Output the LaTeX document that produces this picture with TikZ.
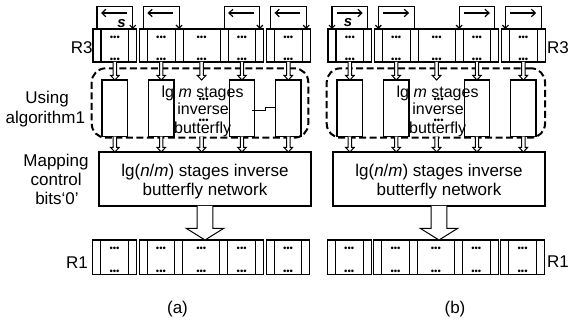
\documentclass[tikz,border=0pt]{standalone}
\usepackage{fontspec}
\setmainfont{Liberation Sans}
\usetikzlibrary{arrows.meta,calc}
\newcommand\mkreg[4]{%
  \foreach \nm/\off/\w in {1L/0/8,1M/8/27.75,1R/35.75/8,2L/46.35/8,2M/54.35/27.75,2R/82.1/8,3M/90.1/37,4L/127.1/8,4M/135.1/27.75,4R/162.85/8,5L/173.45/8,5M/181.45/27.75,5R/209.2/8}{
    \node[cell, minimum width=\w pt, minimum height=#4pt, anchor=north west] (#1-\nm) at ({#2+\off},#3) {};
  }
  \foreach \nm in {1M,2M,3M,4M,5M}{
    \node[dotsn] (#1-\nm-t) at ([yshift=-9.5pt]#1-\nm.north) {•••};
    \node[dotsn] (#1-\nm-b) at ([yshift=1.6pt]#1-\nm.south) {•••};
  }
}
\newcommand\hollow[5]{%
  \draw[hollowarr] let \p1=(#1), \p2=(#2) in
   ({\x1-#3pt},\y1) -- ({\x1-#3pt},{\y2+#5pt}) -- ({\x1-#4pt},{\y2+#5pt}) -- (\x1,\y2)
   -- ({\x1+#4pt},{\y2+#5pt}) -- ({\x1+#3pt},{\y2+#5pt}) -- ({\x1+#3pt},\y1);
}
\newcommand\frameL[2]{%
  \draw[frm, -{Straight Barb[length=3pt,width=6pt]}] (#1.north) -- ++(0,-22.5) -| (#2.north);
  \draw[frm, -{Straight Barb[length=4pt,width=7.5pt]}] ([shift={(-6pt,16pt)}]#2.north) -- ([shift={(4pt,16pt)}]#1.north);
}
\newcommand\frameR[2]{%
  \draw[frm, {Straight Barb[length=3pt,width=6pt]}-] (#1.north) -- ++(0,-22.5) -| (#2.north);
  \draw[frm, -{Straight Barb[length=4pt,width=7.5pt]}] ([shift={(5pt,16pt)}]#1.north) -- ([shift={(-5pt,16pt)}]#2.north);
}
\begin{document}
\begin{tikzpicture}[x=1pt,y=-1pt,
  cell/.style={draw, line width=1.1pt, inner sep=0pt, outer sep=0pt},
  dotsn/.style={inner sep=0pt, font=\fontsize{9.5}{9.5}\selectfont},
  stagebox/.style={draw, line width=1.3pt, minimum width=25.5pt, minimum height=56.7pt, inner sep=0pt, outer sep=0pt},
  mbox/.style={draw, line width=1.3pt, minimum width=212pt, minimum height=54pt, inner sep=0pt, outer sep=0pt},
  dashbox/.style={draw, line width=2pt, dash pattern=on 7pt off 3.5pt, rounded corners=14pt, minimum height=69.4pt, inner sep=0pt},
  hollowarr/.style={draw, line width=1pt, fill=white, line join=miter},
  frm/.style={line width=1.2pt},
  lab/.style={inner sep=0pt, anchor=base, font=\fontsize{17}{17}\selectfont},
  mid/.style={inner sep=0pt, anchor=base, font=\fontsize{16}{16}\selectfont},
  sfont/.style={inner sep=0pt, font=\fontsize{15}{15}\selectfont\bfseries\itshape}]
\useasboundingbox (0,0) rectangle (574,323);

% dashed groups
\node[dashbox, minimum width=216.6pt] (da) at (200,103) {};
\node[dashbox, minimum width=218.3pt] (db) at (435.85,103) {};

% registers
\mkreg{a3}{93}{29}{33}
\mkreg{b3}{328}{29}{33}
\mkreg{a1}{92.7}{240}{34.3}
\mkreg{b1}{327.3}{240}{34.3}

% frames above R3
\frameL{a3-1L}{a3-1R}
\frameL{a3-2L}{a3-2R}
\frameL{a3-4L}{a3-4R}
\frameL{a3-5L}{a3-5R}
\frameR{b3-1L}{b3-1R}
\frameR{b3-2L}{b3-2R}
\frameR{b3-4L}{b3-4R}
\frameR{b3-5L}{b3-5R}
\node[sfont] (sa) at (121.5,23.5) {s};
\node[sfont] (sb) at (348,22.5) {s};

% stage boxes
\foreach \pn in {a,b}{
  \foreach \k in {1,2,4,5}{
    \node[stagebox] (\pn s\k) at (\pn3-\k M.center |- 0,108.35) {};
  }
}
\draw[line width=1.2pt] ([shift={(-2.5pt,-2.4pt)}]as4.east) -- ++(13.3,0) |- ([yshift=1pt]as5.west);

% middle texts
\foreach \pn in {a,b}{
  \node[mid] (\pn t1) at ([xshift=1pt]\pn3-3M.center |- 0,97.3) {lg \textit{m} stages};
  \node[dotsn] (\pn d1) at ([xshift=2pt]\pn3-3M.center |- 0,100.7) {•••};
  \node[mid] (\pn t2) at ([xshift=1.5pt]\pn3-3M.center |- 0,115) {inverse};
  \node[dotsn] (\pn d2) at ([xshift=2pt]\pn3-3M.center |- 0,121.7) {•••};
  \node[mid] (\pn t3) at ([xshift=1pt]\pn3-3M.center |- 0,133.3) {butterfly};
  \coordinate (\pn m1) at (\pn3-3M.center |- 0,80);
  \coordinate (\pn m2) at (\pn3-3M.center |- 0,136.7);
}

% mapping boxes
\node[mbox] (ma) at (205,179) {};
\node[mbox] (mb) at (439,179) {};
\node[lab, font=\fontsize{17}{18.3}\selectfont, align=center, anchor=center] (mat) at (205,181.5) {lg(\textit{n}/\textit{m}) stages inverse\\butterfly network};
\node[lab, font=\fontsize{17}{18.3}\selectfont, align=center, anchor=center] (mbt) at (439,181.5) {lg(\textit{n}/\textit{m}) stages inverse\\butterfly network};

% small hollow arrows
\foreach \pn in {a,b}{
  \foreach \k in {1,2,4,5}{
    \hollow{\pn3-\k M.south}{\pn s\k.north}{1.7}{4.3}{4.6}
    \hollow{\pn s\k.south}{\pn s\k.south |- m\pn.north}{1.7}{4.3}{4.6}
  }
  \hollow{\pn3-3M.south}{\pn m1}{1.7}{4.3}{4.6}
  \hollow{\pn m2}{\pn m2 |- m\pn.north}{1.7}{4.3}{4.6}
}

% big arrows
\hollow{ma.south}{ma.south |- a1-3M.north}{7.8}{18.8}{11.7}
\hollow{mb.south}{mb.south |- b1-3M.north}{7.8}{18.8}{11.7}

% labels
\node[lab] (r3a) at (81.7,53.3) {R3};
\node[lab] (r3b) at (558,53.3) {R3};
\node[lab] (r1a) at (77,269) {R1};
\node[lab] (r1b) at (558,268) {R1};
\node[lab] (u1) at (47,103.3) {Using};
\node[lab] (u2) at (45.3,123.3) {algorithm1};
\node[lab] (m1) at (56,166.7) {Mapping};
\node[lab] (m2) at (56.2,185.7) {control};
\node[lab] (m3) at (57,205) {bits‘0’};
\node[lab] (capa) at (177.5,314) {(a)};
\node[lab] (capb) at (455,314) {(b)};
\end{tikzpicture}
\end{document}
